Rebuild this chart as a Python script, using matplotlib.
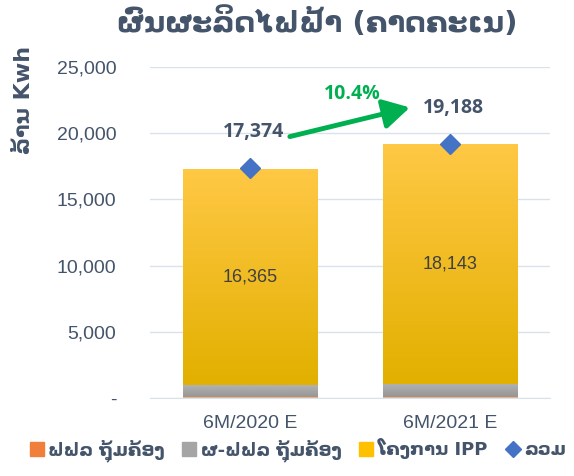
import numpy as np
import matplotlib.pyplot as plt
import matplotlib.colors as mcolors
from matplotlib.ticker import FuncFormatter
from matplotlib.lines import Line2D

# data
periods = ['6M/2020 E', '6M/2021 E']
edl_own = [40, 40]
edl_gen = [900, 1005]
ipp = [16365, 18143]
total = [17374, 19188]
growth_label = '10.4%'

series_names = ['ຟຟລ ຖຸ້ມຄ້ອງ', 'ຜ-ຟຟລ ຖຸ້ມຄ້ອງ', 'ໂຄງການ IPP', 'ລວມ']

plt.rcParams['font.family'] = ['DejaVu Sans']
txt_col = '#44546A'

fig = plt.figure(figsize=(5.74, 4.76), dpi=100)
ax = fig.add_axes([0.261, 0.164, 0.697, 0.695])

x = np.arange(len(periods))
w = 0.67


def grad_bars(bars, c_top, c_bot):
    # fill each bar with a vertical gradient
    for b in bars:
        x0, y0 = b.get_x(), b.get_y()
        x1, y1 = x0 + b.get_width(), y0 + b.get_height()
        g = np.linspace(0, 1, 100)[:, None, None]
        top = np.array(mcolors.to_rgb(c_top))
        bot = np.array(mcolors.to_rgb(c_bot))
        img = top * (1 - g) + bot * g
        im = ax.imshow(img, extent=[x0, x1, y0, y1], origin='upper',
                       aspect='auto', zorder=2)
        im.set_clip_path(b)
        b.set_facecolor('none')


b1 = ax.bar(x, edl_own, w, color='#F4B183', zorder=2)
grad_bars(b1, '#F8A870', '#F4B183')
b2 = ax.bar(x, edl_gen, w, bottom=edl_own, color='#A5A5A5', zorder=2)
grad_bars(b2, '#B2B2B2', '#969696')
bottom2 = [a + b for a, b in zip(edl_own, edl_gen)]
b3 = ax.bar(x, ipp, w, bottom=bottom2, color='#FFC000', zorder=2)
grad_bars(b3, '#FFC845', '#E2B000')

ax.plot(x, total, 'D', color='#4472C4', markersize=10, zorder=4)

for i in range(len(x)):
    ax.text(x[i], bottom2[i] + ipp[i] / 2, f'{ipp[i]:,}', ha='center', va='center',
            fontsize=13, color='#404040', family='Liberation Sans', zorder=5)
    ax.text(x[i] + 0.02, total[i] + 2700, f'{total[i]:,}', ha='center',
            va='center', fontsize=14, fontweight='bold', color=txt_col,
            family='Open Sans', zorder=5)

# growth arrow
ax.annotate('', xy=(0.8, 21950), xytext=(0.2, 19750),
            arrowprops=dict(arrowstyle='-|>,head_length=0.8,head_width=0.45',
                            color='#00B050', lw=3.5, mutation_scale=20,
                            shrinkA=0, shrinkB=0), zorder=5)
ax.text(0.51, 23000, growth_label, ha='center', va='center', fontsize=14,
        fontweight='bold', color='#00B050', family='Open Sans')

ax.set_xlim(-0.5, 1.5)
ax.set_ylim(0, 25000)
ax.set_yticks(range(0, 25001, 5000))
ax.yaxis.set_major_formatter(FuncFormatter(lambda v, p: '-' if v == 0 else f'{int(v):,}'))
ax.set_xticks(x)
ax.set_xticklabels(periods)
ax.tick_params(axis='both', length=0, labelsize=14, colors=txt_col, pad=12)
ax.tick_params(axis='y', pad=24)
for t in ax.get_xticklabels() + ax.get_yticklabels():
    t.set_family('Liberation Sans')
ax.grid(axis='y', color='#D9E1EA', lw=1, zorder=0)
for s in ['top', 'right', 'left']:
    ax.spines[s].set_visible(False)
ax.spines['bottom'].set_color('#D9E1EA')

ax.set_ylabel('ລ້ານ Kwh', fontsize=16, fontweight='bold', color=txt_col)
ax.yaxis.set_label_coords(-0.29, 0.9)

fig.suptitle('ຜົນຜະລິດໄຟຟ້າ (ຄາດຄະເນ)', x=0.552, y=0.985, fontsize=21,
             fontweight='bold', color=txt_col)

# legend
handles = [
    Line2D([], [], marker='s', ls='', color='#F07F3C', markersize=10),
    Line2D([], [], marker='s', ls='', color='#A5A5A5', markersize=10),
    Line2D([], [], marker='s', ls='', color='#FFC000', markersize=10),
    Line2D([], [], marker='D', ls='', color='#4472C4', markersize=8),
]
leg = fig.legend(handles, series_names, loc='lower center', ncol=4, frameon=False,
                 bbox_to_anchor=(0.515, -0.005), handletextpad=0.0, columnspacing=0.7,
                 handlelength=1.3, prop={'size': 13, 'weight': 'bold'})
for t in leg.get_texts():
    t.set_color(txt_col)

fig.savefig('out.png', dpi=100)
